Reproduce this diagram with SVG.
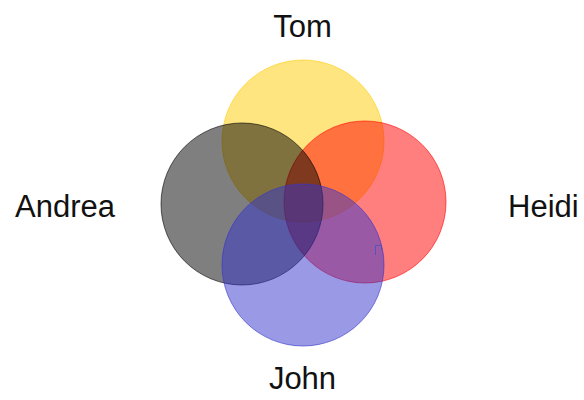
<svg xmlns="http://www.w3.org/2000/svg" width="584" height="400" viewBox="0 0 584 400">
  <style>
    .set { stroke-width: 1; }
    .lbl { font-family: "Liberation Sans", Arial, sans-serif; font-size: 31px; fill: #111; }
  </style>
  <rect width="584" height="400" fill="#ffffff"/>
  <g id="tom">
    <circle class="set" cx="303" cy="141" r="81" fill="#FFCC00" fill-opacity="0.5" stroke="#FFCC00" stroke-opacity="0.6"/>
    <text class="lbl" x="302.5" y="37" text-anchor="middle">Tom</text>
  </g>
  <g id="heidi">
    <circle class="set" cx="365" cy="202" r="81" fill="#FF0000" fill-opacity="0.5" stroke="#FF0000" stroke-opacity="0.6"/>
    <text class="lbl" x="508" y="217">Heidi</text>
  </g>
  <g id="andrea">
    <circle class="set" cx="242" cy="204" r="81" fill="#000000" fill-opacity="0.5" stroke="#000000" stroke-opacity="0.6"/>
    <text class="lbl" x="15" y="217">Andrea</text>
  </g>
  <g id="john">
    <circle class="set" cx="303" cy="265" r="81" fill="#3333CC" fill-opacity="0.5" stroke="#3333CC" stroke-opacity="0.6"/>
    <text class="lbl" x="302.5" y="389" text-anchor="middle">John</text>
  </g>
  <g id="connectors">
    <path d="M375.5 255 V245.5 H381.5 V250" fill="none" stroke="#5555bb" stroke-width="1"/>
  </g>
</svg>
